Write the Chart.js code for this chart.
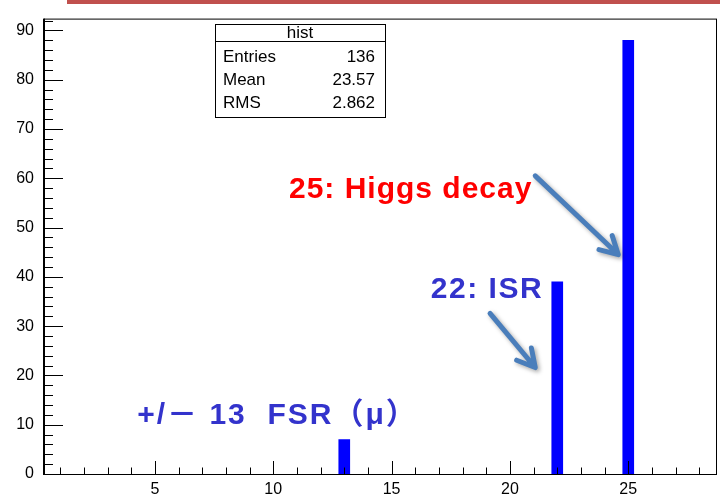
<!DOCTYPE html>
<html>
<head>
<meta charset="utf-8">
<script src="https://cdn.jsdelivr.net/npm/chart.js@4"></script>
<style>
  html, body { margin: 0; padding: 0; background: #fff; }
  #wrap { width: 720px; height: 499px; }
</style>
</head>
<body>
<div id="wrap"><canvas id="chart" width="720" height="499"></canvas></div>
<script>
(function () {
  "use strict";

  // ── Data ───────────────────────────────────
  const BIN_CENTERS = [13, 22, 25];
  const BIN_COUNTS  = [7, 39, 88];
  const X_TICKS = [5, 10, 15, 20, 25];
  const Y_TICKS = [0, 10, 20, 30, 40, 50, 60, 70, 80, 90];
  const X_RANGE = [0.27, 28.75];
  const Y_RANGE = [0, 92.4];

  const STAT_TITLE  = "hist";
  const STAT_NAMES  = ["Entries", "Mean", "RMS"];
  const STAT_VALUES = ["136", "23.57", "2.862"];

  // labels anchored in data coordinates
  const NOTE_TEXTS   = ["25: Higgs decay", "22: ISR", "+/\uFF0D 13  FSR\uFF08\u03BC\uFF09"];
  const NOTE_X       = [20.95, 21.4, 4.25];
  const NOTE_Y       = [56.0, 35.8, 10.2];
  const NOTE_ALIGN   = ["right", "right", "left"];
  const NOTE_COLORS  = ["#ff0000", "#3333cc", "#3333cc"];
  const NOTE_SPACING = ["1px", "1.5px", "2px"];

  // arrows in data coordinates
  const ARROW_FROM_X = [21.07, 19.16];
  const ARROW_FROM_Y = [60.5, 32.6];
  const ARROW_TO_X   = [24.58, 21.07];
  const ARROW_TO_Y   = [44.5, 21.6];

  const FONT = "'Liberation Sans', Arial, sans-serif";

  // ── Plugin: ROOT-style frame, inward ticks, stats box, notes ──
  const decor = {
    id: "decor",
    beforeDraw(chart) {
      const ctx = chart.ctx;
      ctx.save();
      ctx.fillStyle = "#c0504d";
      ctx.fillRect(67, 0, 653, 4);
      ctx.restore();
    },
    afterDatasetsDraw(chart) {
      const ctx = chart.ctx;
      const a = chart.chartArea;
      const xs = chart.scales.x, ys = chart.scales.y;

      ctx.save();
      ctx.strokeStyle = "#000";
      ctx.lineWidth = 1;
      ctx.strokeRect(a.left + 0.5, a.top + 0.5, a.right - a.left - 1, a.bottom - a.top);
      ctx.beginPath();
      ctx.moveTo(a.left + 1.5, a.top); ctx.lineTo(a.left + 1.5, a.bottom);
      ctx.stroke();

      // y ticks every 2, major every 10
      ctx.beginPath();
      for (let v = 0; v <= Y_RANGE[1]; v += 2) {
        const y = Math.round(ys.getPixelForValue(v)) + 0.5;
        const len = v % 10 === 0 ? 20 : 10;
        ctx.moveTo(a.left, y); ctx.lineTo(a.left + len, y);
      }
      // x ticks every 1, major every 5
      for (let v = 1; v <= X_RANGE[1]; v += 1) {
        const x = Math.round(xs.getPixelForValue(v)) + 0.5;
        const len = v % 5 === 0 ? 13 : 6.5;
        ctx.moveTo(x, a.bottom); ctx.lineTo(x, a.bottom - len);
      }
      ctx.stroke();

      // stats box
      const bx = 215, by = 24, bw = 170, bh = 93;
      ctx.fillStyle = "#fff";
      ctx.fillRect(bx, by, bw, bh);
      ctx.strokeRect(bx + 0.5, by + 0.5, bw, bh);
      ctx.beginPath();
      ctx.moveTo(bx, by + 17.5); ctx.lineTo(bx + bw, by + 17.5);
      ctx.stroke();
      ctx.fillStyle = "#000";
      ctx.font = "17px " + FONT;
      ctx.textBaseline = "middle";
      ctx.textAlign = "center";
      ctx.fillText(STAT_TITLE, bx + bw / 2, by + 9);
      STAT_NAMES.forEach((n, i) => {
        const y = by + 33 + i * 23;
        ctx.textAlign = "left";
        ctx.fillText(n, bx + 8, y);
        ctx.textAlign = "right";
        ctx.fillText(STAT_VALUES[i], bx + bw - 10, y);
      });

      // notes
      ctx.textBaseline = "alphabetic";
      NOTE_TEXTS.forEach((t, i) => {
        ctx.font = "bold 30px " + FONT + ", 'Noto Sans CJK JP'";
        ctx.letterSpacing = NOTE_SPACING[i];
        ctx.fillStyle = NOTE_COLORS[i];
        ctx.textAlign = NOTE_ALIGN[i];
        ctx.fillText(t, xs.getPixelForValue(NOTE_X[i]), ys.getPixelForValue(NOTE_Y[i]));
      });
      ctx.letterSpacing = "0px";

      // arrows
      ctx.strokeStyle = "#4a7ebb";
      ctx.lineWidth = 5;
      ctx.lineCap = "round";
      ctx.lineJoin = "round";
      ctx.shadowColor = "rgba(0,0,0,0.35)";
      ctx.shadowBlur = 4;
      ctx.shadowOffsetX = 2;
      ctx.shadowOffsetY = 2;
      ARROW_FROM_X.forEach((fx, i) => {
        const x0 = xs.getPixelForValue(fx), y0 = ys.getPixelForValue(ARROW_FROM_Y[i]);
        const x1 = xs.getPixelForValue(ARROW_TO_X[i]), y1 = ys.getPixelForValue(ARROW_TO_Y[i]);
        const ang = Math.atan2(y1 - y0, x1 - x0);
        const h = 20, spread = 0.5;
        ctx.beginPath();
        ctx.moveTo(x0, y0); ctx.lineTo(x1 - 2 * Math.cos(ang), y1 - 2 * Math.sin(ang));
        ctx.moveTo(x1 - h * Math.cos(ang - spread), y1 - h * Math.sin(ang - spread));
        ctx.lineTo(x1, y1);
        ctx.lineTo(x1 - h * Math.cos(ang + spread), y1 - h * Math.sin(ang + spread));
        ctx.stroke();
      });
      ctx.restore();
    }
  };

  const tickFont = { family: FONT, size: 16 };

  new Chart(document.getElementById("chart"), {
    type: "bar",
    data: {
      datasets: [{
        data: BIN_CENTERS.map((x, i) => ({ x: x, y: BIN_COUNTS[i] })),
        backgroundColor: "#0000ff",
        borderWidth: 0,
        barThickness: 11
      }]
    },
    options: {
      responsive: false,
      animation: false,
      events: [],
      layout: { padding: { top: 18, right: 3, left: 0, bottom: 0 } },
      plugins: { legend: { display: false }, tooltip: { enabled: false } },
      scales: {
        x: {
          type: "linear",
          offset: false,
          min: X_RANGE[0],
          max: X_RANGE[1],
          afterBuildTicks: (s) => { s.ticks = X_TICKS.map((v) => ({ value: v })); },
          afterFit: (s) => { s.height = 25; },
          ticks: { color: "#000", font: tickFont, padding: 6, maxRotation: 0 },
          grid: { display: false, drawTicks: false, offset: false },
          border: { display: false }
        },
        y: {
          min: Y_RANGE[0],
          max: Y_RANGE[1],
          afterBuildTicks: (s) => { s.ticks = Y_TICKS.map((v) => ({ value: v })); },
          afterFit: (s) => { s.width = 43; },
          ticks: { color: "#000", font: tickFont, padding: 9 },
          grid: { display: false, drawTicks: false },
          border: { display: false }
        }
      }
    },
    plugins: [decor]
  });
})();
</script>
</body>
</html>
